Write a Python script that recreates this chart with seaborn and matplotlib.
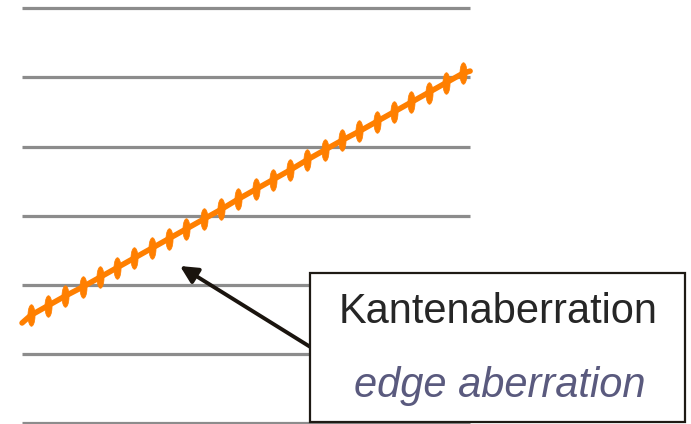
import matplotlib
matplotlib.use("Agg")
import matplotlib.pyplot as plt
import numpy as np
import pandas as pd
import seaborn as sns
from matplotlib.patches import Rectangle

# data
categories = list(range(26))
values = [1.56, 1.70, 1.84, 1.97, 2.11, 2.25, 2.39, 2.53, 2.67, 2.81, 2.95, 3.09, 3.24, 3.38, 3.52,
          3.66, 3.81, 3.95, 4.09, 4.22, 4.36, 4.50, 4.64, 4.78, 4.92, 5.06]
edge_x = [-0.5, 25.4]
edge_values = [1.45, 5.09]
grid_levels = [0, 1, 2, 3, 4, 5, 6]
label_de = "Kantenaberration"
label_en = "edge aberration"

orange = "#ff7f00"

sns.set_style("white")
plt.rcParams['font.family'] = ['Liberation Sans', 'DejaVu Sans']

fig = plt.figure(figsize=(6.91, 4.24), dpi=100)
ax = fig.add_axes([0, 0, 1, 1])
ax.set_xlim(-1.775, 38.17)
ax.set_ylim(-0.01, 6.117)
ax.axis("off")

# horizontal grid lines
ax.hlines(grid_levels, edge_x[0], edge_x[1], color="#8c8c8c", lw=2.3, zorder=1)

# the curve, extended to the plot edges
df = pd.DataFrame({"x": [edge_x[0]] + categories + [edge_x[1]],
                   "y": [edge_values[0]] + values + [edge_values[1]]})
sns.lineplot(data=df, x="x", y="y", ax=ax, color=orange, lw=4.0, zorder=3)

# vertical elliptic markers at each category
t = np.linspace(0, 2 * np.pi, 40)
ell = np.column_stack([0.33 * np.cos(t), np.sin(t)])
sns.scatterplot(x=categories, y=values, ax=ax, marker=ell, s=15.5 ** 2,
                color=orange, edgecolor=orange, linewidth=0.5, zorder=4)

# arrow from the box to the curve
ax.annotate("", xy=(180, 424 - 266), xycoords="figure pixels",
            xytext=(312, 424 - 348), textcoords="figure pixels",
            arrowprops=dict(arrowstyle="-|>", lw=2.8, color="#1a140e",
                            mutation_scale=26, shrinkA=0, shrinkB=0),
            zorder=5)

# text box
box = Rectangle((310 / 691, 2 / 424), 375 / 691, 149 / 424, transform=fig.transFigure,
                facecolor="white", edgecolor="#1e1a14", lw=1.6, zorder=6)
fig.patches.append(box)
fig.text(498.5 / 691, (424 - 323) / 424, label_de, ha="center", va="baseline",
         fontsize=30, color="#262626", zorder=7)
fig.text(500 / 691, (424 - 397) / 424, label_en, ha="center", va="baseline",
         fontsize=30, color="#5a5a7e", style="italic", zorder=7)

fig.savefig("out.png", dpi=100)
